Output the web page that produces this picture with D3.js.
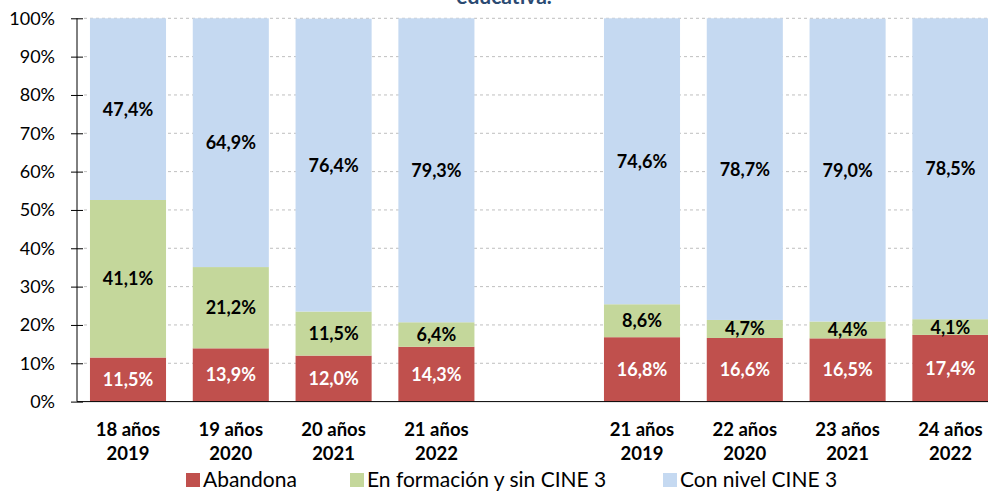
<!DOCTYPE html>
<html><head><meta charset="utf-8">
<script src="https://cdn.jsdelivr.net/npm/d3@7"></script>
<style>
html,body{margin:0;padding:0;background:#fff;overflow:hidden}
svg{display:block;font-family:Lato,"Open Sans",sans-serif}
</style></head>
<body>
<svg id="c" width="988" height="492"></svg>
<script>
const categories = ["18 años|2019","19 años|2020","20 años|2021","21 años|2022","","21 años|2019","22 años|2020","23 años|2021","24 años|2022"];
const abandona  = [11.5, 13.9, 12.0, 14.3, null, 16.8, 16.6, 16.5, 17.4];
const formacion = [41.1, 21.2, 11.5, 6.4, null, 8.6, 4.7, 4.4, 4.1];
const cine3     = [47.4, 64.9, 76.4, 79.3, null, 74.6, 78.7, 79.0, 78.5];
const seriesNames = ["Abandona","En formación y sin CINE 3","Con nivel CINE 3"];
const yTicks = [0,10,20,30,40,50,60,70,80,90,100];
const titleText = "educativa.";

const colors = ["#C0504D","#C4D79B","#C5D9F1"];
const labelColors = ["#ffffff","#000000","#000000"];
const svg = d3.select("#c");

const x = d3.scaleBand().domain(d3.range(categories.length)).range([76.6, 1001.8]).paddingInner(0.26).paddingOuter(0.13);
const y = d3.scaleLinear().domain([0,100]).range([401.6, 18.3]);

// title (partially visible, as in the reference)
svg.append("text").attr("x",504).attr("y",4).attr("text-anchor","middle")
  .attr("font-size",21).attr("font-weight","bold").attr("fill","#2B4A72").text(titleText);

// gridlines
svg.append("g").selectAll("line").data(yTicks.filter(d=>d>0)).join("line")
  .attr("x1",84).attr("x2",988).attr("y1",d=>y(d)).attr("y2",d=>y(d))
  .attr("stroke","#BFBFBF").attr("stroke-width",1).attr("stroke-dasharray","3,3");

// stacked data
const rows = categories.map((c,i)=>({i, vals:[abandona[i],formacion[i],cine3[i]]})).filter(r=>r.vals[0]!=null);
const table = rows.map(r=>({i:r.i, s0:r.vals[0], s1:r.vals[1], s2:r.vals[2]}));
const stack = d3.stack().keys(["s0","s1","s2"])(table);

const g = svg.append("g");
stack.forEach((layer,k)=>{
  g.selectAll(null).data(layer).join("rect")
    .attr("x",d=>x(d.data.i)).attr("width",x.bandwidth())
    .attr("y",d=>y(d[1])).attr("height",d=>y(d[0])-y(d[1]))
    .attr("fill",colors[k]);
});
stack.forEach((layer,k)=>{
  g.selectAll(null).data(layer).join("text")
    .attr("x",d=>x(d.data.i)+x.bandwidth()/2)
    .attr("y",d=>(y(d[0])+y(d[1]))/2)
    .attr("dy","0.36em").attr("text-anchor","middle")
    .attr("font-size",18).attr("font-weight","bold").attr("fill",labelColors[k])
    .text(d=>d.data["s"+k].toFixed(1).replace(".",",")+"%");
});

// y axis
const yAxis = d3.axisLeft(y).tickValues(yTicks).tickFormat(d=>d+"%").tickSize(0).tickPadding(22);
const ya = svg.append("g").attr("transform","translate(77,0)").call(yAxis);
ya.select(".domain").attr("stroke","#000").attr("d","M0,"+y(100)+"V"+y(0));
ya.selectAll(".tick text").attr("font-size",18).attr("fill","#000").attr("font-family","Lato,sans-serif");
ya.selectAll(".tick").append("line").attr("x1",-6).attr("x2",6).attr("stroke","#000");
// baseline
svg.append("line").attr("x1",77).attr("x2",988).attr("y1",y(0)).attr("y2",y(0)).attr("stroke","#000").attr("stroke-width",1);

// x labels
const xl = svg.append("g");
categories.forEach((c,i)=>{
  if(!c) return;
  const parts = c.split("|");
  const cx = x(i)+x.bandwidth()/2;
  const t = xl.append("text").attr("x",cx).attr("text-anchor","middle")
    .attr("font-size",18.5).attr("font-weight","bold").attr("fill","#000");
  t.append("tspan").attr("x",cx).attr("y",436).text(parts[0]);
  t.append("tspan").attr("x",cx).attr("y",460).text(parts[1]);
});

// legend
const legendX = [186, 350, 663];
const lg = svg.append("g");
seriesNames.forEach((n,k)=>{
  lg.append("rect").attr("x",legendX[k]).attr("y",473).attr("width",14).attr("height",14).attr("fill",colors[k]);
  lg.append("text").attr("x",legendX[k]+17).attr("y",487).attr("font-size",21).attr("fill","#000").text(n);
});
</script>
</body></html>
